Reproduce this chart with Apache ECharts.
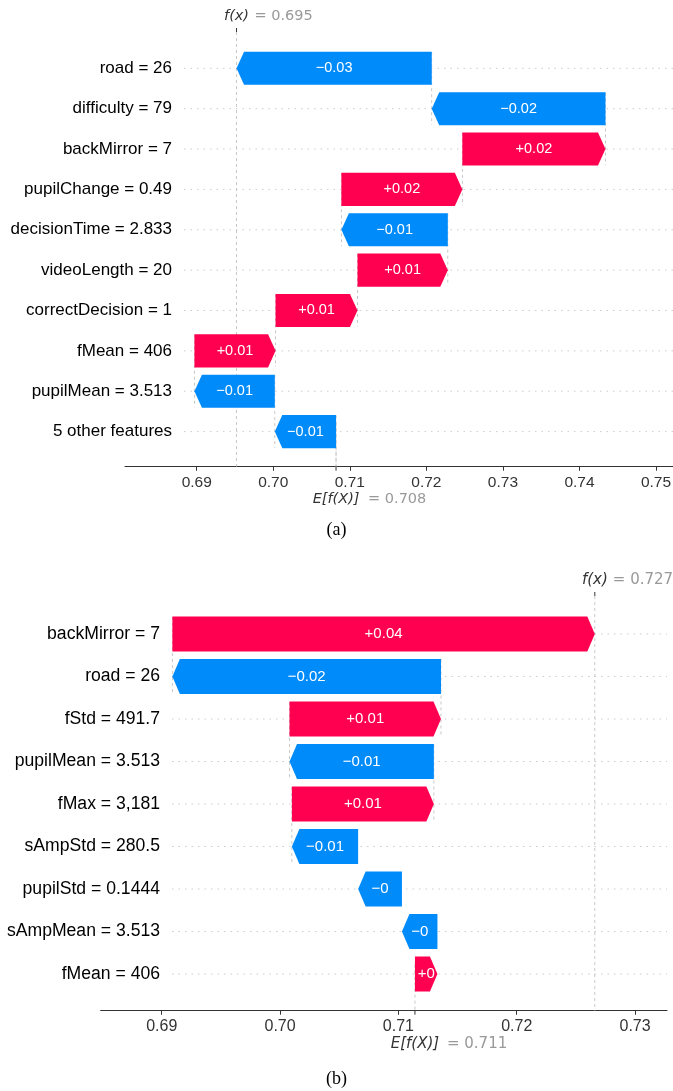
<!DOCTYPE html>
<html>
<head>
<meta charset="utf-8">
<script src="https://cdn.jsdelivr.net/npm/echarts@6/dist/echarts.min.js"></script>
<style>
  html, body { margin: 0; padding: 0; background: #ffffff; }
  #chart { width: 673px; height: 1091px; }
</style>
</head>
<body>
<div id="chart"></div>
<script>
// ---- Panel (a): contributions listed top to bottom ----
const featuresA = [
  'road = 26', 'difficulty = 79', 'backMirror = 7', 'pupilChange = 0.49',
  'decisionTime = 2.833', 'videoLength = 20', 'correctDecision = 1',
  'fMean = 406', 'pupilMean = 3.513', '5 other features'
];
const shapA = [-0.0255, -0.0227, 0.0187, 0.0158, -0.0139, 0.0118, 0.0107, 0.0106, -0.0105, -0.0080];
const baseA = 0.7082;
const ticksA = [0.69, 0.70, 0.71, 0.72, 0.73, 0.74, 0.75];

// ---- Panel (b) ----
const featuresB = [
  'backMirror = 7', 'road = 26', 'fStd = 491.7', 'pupilMean = 3.513',
  'fMax = 3,181', 'sAmpStd = 280.5', 'pupilStd = 0.1444', 'sAmpMean = 3.513', 'fMean = 406'
];
const shapB = [0.0357, -0.0227, 0.0128, -0.0122, 0.0120, -0.0056, -0.0037, -0.0030, 0.0019];
const baseB = 0.7114;
const ticksB = [0.69, 0.70, 0.71, 0.72, 0.73];

const RED = '#ff0051';
const BLUE = '#008bfb';
const SANS = '"Liberation Sans", Arial, Helvetica, sans-serif';
const MATH = '"DejaVu Sans", sans-serif';

// Walk from the expected value at the bottom row up to f(x) at the top row.
function waterfall(values, base) {
  const n = values.length;
  const steps = new Array(n);
  let pos = base;
  for (let i = n - 1; i >= 0; i--) {
    steps[i] = [i, pos, pos + values[i], values[i]];
    pos += values[i];
  }
  return { steps: steps, fx: pos };
}

// "+0.02", "−0.01", "+0" style
function fmtShap(v) {
  const s = Math.abs(v).toFixed(2).replace(/0+$/, '').replace(/\.$/, '');
  return (v < 0 ? '\u2212' : '+') + s;
}

function buildPanel(idx, names, values, base, ticks, cfg) {
  const wf = waterfall(values, base);
  const n = values.length;
  const rows = names.map((_, i) => [i]);
  const connectors = wf.steps
    .filter(s => cfg.allConnectors || s[0] + 4 < n)
    .map(s => [s[0], s[1]]);

  const xAxis = {
    gridIndex: idx, type: 'value', min: cfg.xMin, max: cfg.xMax, position: 'bottom',
    axisLine: { show: true, onZero: false, lineStyle: { color: '#333', width: 1.2 } },
    axisTick: { show: true, length: 4, customValues: ticks, lineStyle: { color: '#333', width: 1 } },
    axisLabel: {
      show: true, customValues: ticks, margin: cfg.labelMargin,
      formatter: v => v.toFixed(2), color: '#333', fontSize: cfg.tickFont, fontFamily: SANS
    },
    splitLine: { show: false }
  };
  const yAxis = {
    gridIndex: idx, type: 'value', inverse: true, min: cfg.yMin, max: cfg.yMax,
    offset: -cfg.rowInset,
    axisLine: { show: false, onZero: false }, axisTick: { show: false }, splitLine: { show: false },
    axisLabel: {
      show: true, customValues: names.map((_, i) => i), margin: 12,
      formatter: v => names[Math.round(v)], color: '#000', fontSize: cfg.nameFont, fontFamily: SANS
    }
  };

  const series = [
    {
      // dotted guide behind every row
      type: 'custom', xAxisIndex: idx, yAxisIndex: idx, z: 1, clip: false, silent: true,
      data: rows,
      renderItem: (params, api) => {
        const cs = params.coordSys;
        const y = api.coord([cfg.xMin, api.value(0)])[1];
        return {
          type: 'line',
          shape: { x1: cs.x + cfg.rowInset, y1: y, x2: cs.x + cs.width, y2: y },
          style: { stroke: '#cccccc', lineWidth: 1, lineDash: [1.5, 5] }
        };
      }
    },
    {
      // dashed connectors from each bar's base to the bar below
      type: 'custom', xAxisIndex: idx, yAxisIndex: idx, z: 1, clip: false, silent: true,
      data: connectors,
      renderItem: (params, api) => {
        const cs = params.coordSys;
        const row = api.value(0), loc = api.value(1);
        const top = api.coord([loc, row - 0.4]);
        const bot = api.coord([loc, row + 1.4]);
        return {
          type: 'line',
          shape: { x1: top[0], y1: top[1], x2: top[0], y2: Math.min(bot[1], cs.y + cs.height) },
          style: { stroke: '#bbbbbb', lineWidth: 0.8, lineDash: [3, 3] }
        };
      }
    },
    {
      // f(x) and E[f(X)] reference lines with their labels
      type: 'custom', xAxisIndex: idx, yAxisIndex: idx, z: 2, clip: false, silent: true,
      data: [[wf.fx, base]],
      renderItem: (params, api) => {
        const cs = params.coordSys;
        const fxX = api.coord([api.value(0), 0])[0];
        const eX = api.coord([api.value(1), 0])[0];
        const bottom = cs.y + cs.height;
        const fs = cfg.mathFont;
        return {
          type: 'group',
          children: [
            { type: 'line', shape: { x1: fxX, y1: cs.y, x2: fxX, y2: bottom },
              style: { stroke: '#bbbbbb', lineWidth: 0.8, lineDash: [3, 3] } },
            { type: 'line', shape: { x1: eX, y1: bottom - cs.height / n, x2: eX, y2: bottom },
              style: { stroke: '#bbbbbb', lineWidth: 0.8, lineDash: [3, 3] } },
            { type: 'line', shape: { x1: fxX, y1: cs.y - 4, x2: fxX, y2: cs.y },
              style: { stroke: '#333', lineWidth: 1 } },
            { type: 'line', shape: { x1: eX, y1: bottom, x2: eX, y2: bottom + 4 },
              style: { stroke: '#333', lineWidth: 1 } },
            { type: 'text', style: { text: 'f(x)', x: fxX, y: cs.y - 16, fill: '#333',
                font: 'italic ' + fs + 'px ' + MATH, align: 'center', textAlign: 'center',
                verticalAlign: 'middle', textVerticalAlign: 'middle' } },
            { type: 'text', style: { text: '= ' + wf.fx.toFixed(3), x: fxX + 18, y: cs.y - 16, fill: '#999999',
                font: fs + 'px ' + MATH, align: 'left', textAlign: 'left',
                verticalAlign: 'middle', textVerticalAlign: 'middle' } },
            { type: 'text', style: { text: 'E[f(X)]', x: eX, y: bottom + 33, fill: '#333',
                font: 'italic ' + fs + 'px ' + MATH, align: 'center', textAlign: 'center',
                verticalAlign: 'middle', textVerticalAlign: 'middle' } },
            { type: 'text', style: { text: '= ' + base.toFixed(3), x: eX + 32, y: bottom + 33, fill: '#999999',
                font: fs + 'px ' + MATH, align: 'left', textAlign: 'left',
                verticalAlign: 'middle', textVerticalAlign: 'middle' } }
          ]
        };
      }
    },
    {
      // arrow-shaped contribution bars
      type: 'custom', xAxisIndex: idx, yAxisIndex: idx, z: 3, clip: false,
      data: wf.steps,
      renderItem: (params, api) => {
        const row = api.value(0), a = api.value(1), b = api.value(2), v = api.value(3);
        const p0 = api.coord([a, row]);
        const p1 = api.coord([b, row]);
        const rowH = Math.abs(api.coord([a, row + 1])[1] - p0[1]);
        const h = rowH * 0.82;
        const yT = p0[1] - h / 2, yB = p0[1] + h / 2, ym = p0[1];
        const dir = v >= 0 ? 1 : -1;
        const head = Math.min(Math.abs(p1[0] - p0[0]), 7.5);
        const xn = p1[0] - dir * head;
        return {
          type: 'group',
          children: [
            { type: 'polygon',
              shape: { points: [[p0[0], yT], [xn, yT], [p1[0], ym], [xn, yB], [p0[0], yB]] },
              style: { fill: v >= 0 ? RED : BLUE } },
            { type: 'text', z2: 10,
              style: { text: fmtShap(v), x: (p0[0] + p1[0]) / 2, y: ym, fill: '#ffffff',
                font: cfg.barFont + 'px ' + SANS, align: 'center', textAlign: 'center',
                verticalAlign: 'middle', textVerticalAlign: 'middle' } }
          ]
        };
      }
    }
  ];
  return { xAxis, yAxis, series };
}

const pA = buildPanel(0, featuresA, shapA, baseA, ticksA, {
  xMin: 0.68063, xMax: 0.75222, yMin: -0.9, yMax: 9.87, rowInset: 59,
  allConnectors: true, labelMargin: 8, tickFont: 15.5, nameFont: 17, barFont: 14.5, mathFont: 14.5
});
const pB = buildPanel(1, featuresB, shapB, baseB, ticksB, {
  xMin: 0.684844, xMax: 0.7327, yMin: -0.894, yMax: 8.863, rowInset: 71.3,
  allConnectors: false, labelMargin: 8, tickFont: 16, nameFont: 17.6, barFont: 15, mathFont: 15
});

const chart = echarts.init(document.getElementById('chart'), null, { renderer: 'canvas' });
chart.setOption({
  animation: false,
  backgroundColor: '#ffffff',
  grid: [
    { left: 125, top: 32, width: 548, height: 434.7, outerBoundsMode: 'none', containLabel: false },
    { left: 100.7, top: 596, width: 566.3, height: 414.7, outerBoundsMode: 'none', containLabel: false }
  ],
  xAxis: [pA.xAxis, pB.xAxis],
  yAxis: [pA.yAxis, pB.yAxis],
  series: pA.series.concat(pB.series),
  graphic: [
    { type: 'text', left: 'center', top: 521,
      style: { text: '(a)', fill: '#000', font: '18px "Liberation Serif", "Times New Roman", serif' } },
    { type: 'text', left: 'center', top: 1070,
      style: { text: '(b)', fill: '#000', font: '18px "Liberation Serif", "Times New Roman", serif' } }
  ]
});
</script>
</body>
</html>
